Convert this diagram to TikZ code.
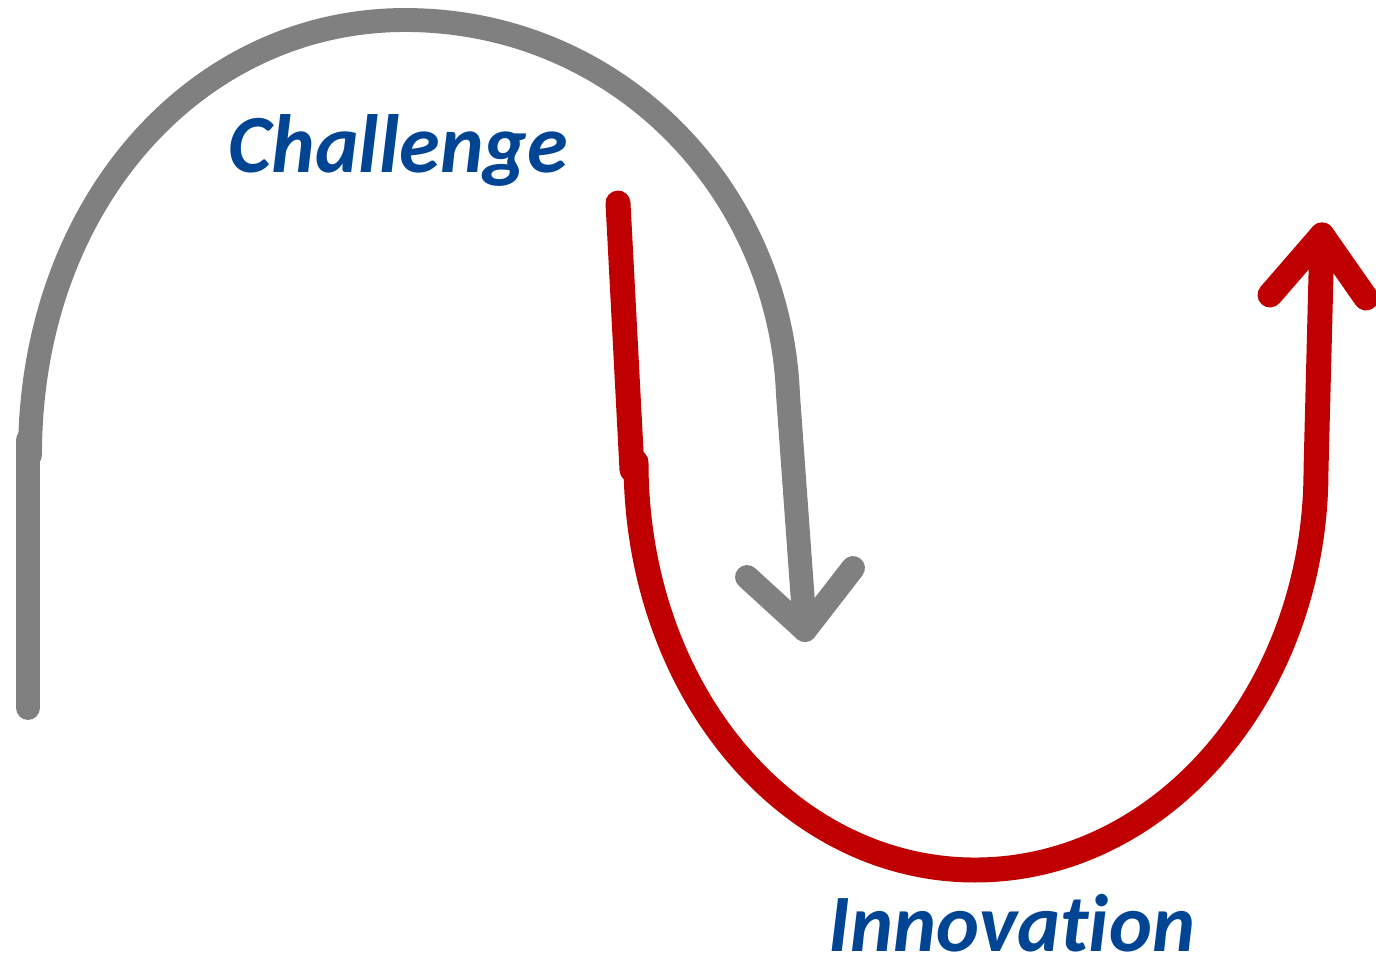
\documentclass[tikz,border=0pt]{standalone}
\usepackage{fontspec}
\setmainfont[Ligatures={NoCommon}]{Carlito}
\usepackage{xcolor}
\usepackage{tikz}

\definecolor{pathgray}{HTML}{808080}
\definecolor{pathred}{HTML}{C00000}
\definecolor{wordblue}{HTML}{004494}

\begin{document}
\begin{tikzpicture}[
    x=0.01cm, y=-0.01cm,
    challengeline/.style={draw=pathgray, line width=6.8pt, line cap=round, line join=round},
    innovationline/.style={draw=pathred, line width=7.1pt, line cap=round, line join=round},
    word/.style={text=wordblue, inner sep=0pt, anchor=base west}
]
\useasboundingbox (0,0) rectangle (1376,957);

% challenge: grey curve going down
\coordinate (cStart) at (28,708);
\coordinate (cJog) at (28,440);
\coordinate (cArcL) at (30,455);
\coordinate (cTop) at (405,20);
\coordinate (cArcR) at (788,395);
\coordinate (cTip) at (805,630);
\coordinate (cHeadL) at (747,577);
\coordinate (cHeadR) at (853,568);

\draw[challengeline] (cStart) -- (cJog);
\draw[challengeline] (cArcL) .. controls (30,203) and (197,20) .. (cTop)
    .. controls (618,20) and (780,190) .. (cArcR) -- (cTip);
\draw[challengeline] (cHeadL) -- (cTip) -- (cHeadR);

% innovation: red curve going up
\coordinate (iStart) at (618,203);
\coordinate (iJog) at (632,470);
\coordinate (iArcL) at (636,462);
\coordinate (iBottom) at (975,870);
\coordinate (iArcR) at (1316,470);
\coordinate (iTip) at (1322,235);
\coordinate (iHeadL) at (1270,295);
\coordinate (iHeadR) at (1366,298);

\draw[innovationline] (iStart) -- (iJog);
\draw[innovationline] (iArcL) .. controls (636,691) and (788,870) .. (iBottom)
    .. controls (1163,870) and (1316,691) .. (iArcR) -- (iTip);
\draw[innovationline] (iHeadL) -- (iTip) -- (iHeadR);

% labels
\node[word, font=\fontsize{23.5}{28}\selectfont\bfseries\itshape] (challenge) at (228,172) {Challenge};
\node[word, font=\fontsize{23.2}{28}\selectfont\bfseries\itshape] (innovation) at (828,951) {Innovation};
\end{tikzpicture}
\end{document}
